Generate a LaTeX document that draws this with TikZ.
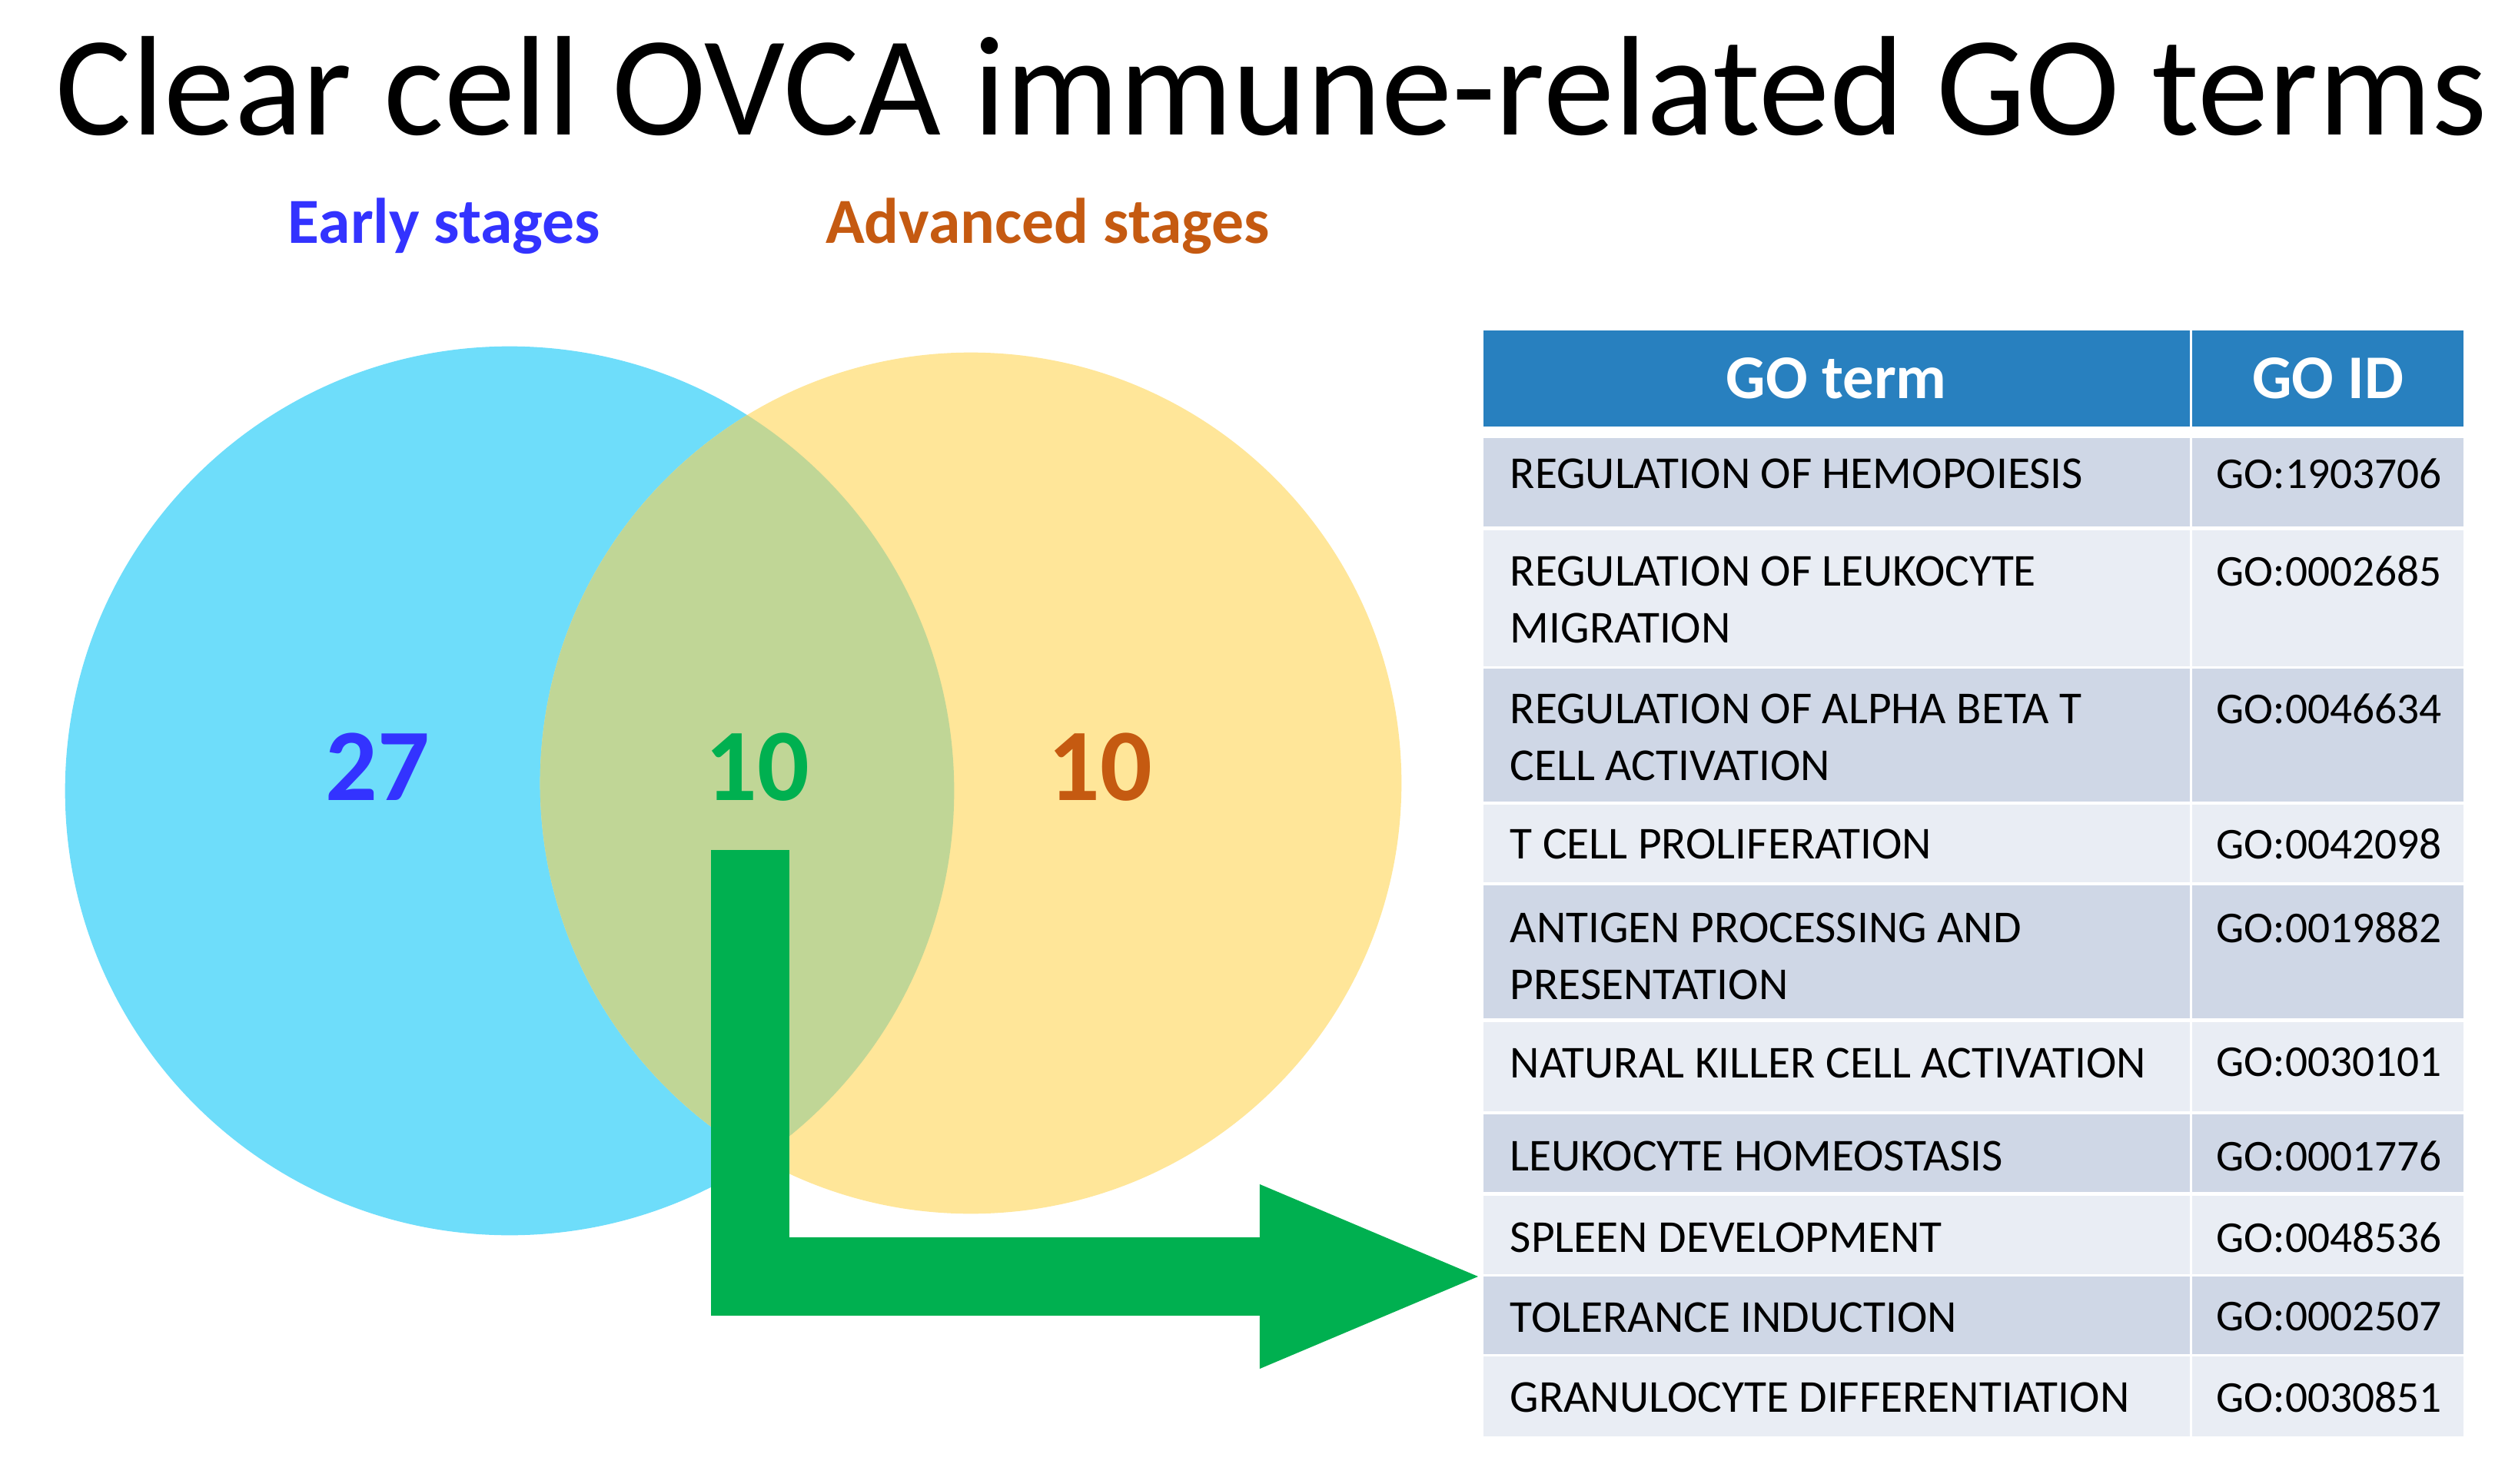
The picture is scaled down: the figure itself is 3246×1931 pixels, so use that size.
\documentclass[tikz,border=0pt]{standalone}
\usepackage{fontspec}
\setmainfont{Carlito}
\usetikzlibrary{positioning, arrows.meta}

\definecolor{earlyblue}{RGB}{51,51,255}
\definecolor{advbrown}{RGB}{197,90,17}
\definecolor{sharegreen}{RGB}{0,176,80}
\definecolor{earlyfill}{RGB}{110,221,250}
\definecolor{advfill}{RGB}{255,230,153}
\definecolor{overlapfill}{RGB}{192,214,150}
\definecolor{headblue}{RGB}{40,128,191}
\definecolor{rowdark}{RGB}{207,215,230}
\definecolor{rowlight}{RGB}{233,237,244}

\begin{document}
\begin{tikzpicture}
[
    x=0.01cm, y=-0.01cm,
    % One unit is one pixel of the original figure, y runs downwards
    % Table cells are named term-i / id-i, their texts t-i / g-i
]

%=================================== Start ===================================
\tikzstyle{cell}  = [rectangle, inner sep=0pt, outer sep=0pt, anchor=north west]
\tikzstyle{head}  = [cell, fill=headblue, text=white, font=\fontsize{23}{27}\selectfont\bfseries]
\tikzstyle{term}  = [inner sep=0pt, anchor=north west, align=left, font=\fontsize{16.9}{21}\selectfont]
\tikzstyle{goid}  = [inner sep=0pt, anchor=north, font=\fontsize{16.3}{21}\selectfont]
\tikzstyle{count} = [inner sep=0pt, anchor=base, font=\fontsize{38}{40}\selectfont\bfseries]
\tikzstyle{stage} = [inner sep=0pt, anchor=base, font=\fontsize{23.8}{28}\selectfont\bfseries]
\tikzstyle{set}   = [circle, inner sep=0pt, outer sep=0pt]

\useasboundingbox (0,0) rectangle (3246,1931);

% Title
\node[inner sep=0pt, anchor=base west, font=\fontsize{52.5}{60}\selectfont]
    (title) at (72,176) {Clear cell OVCA immune-related GO terms};

% Set labels
\node[stage, text=earlyblue] (early-label) at (578,317) {Early stages};
\node[stage, text=advbrown]  (adv-label)   at (1363,317) {Advanced stages};

% Draw the two sets and their overlap
\node[set, fill=earlyfill, minimum size=11.56cm] (early) at (663,1029) {};
\node[set, fill=advfill, minimum size=11.2cm]    (advanced) at (1263,1019) {};
\begin{scope}
    \clip (early.center) circle (5.78cm);
    \fill[overlapfill] (advanced.center) circle (5.6cm);
\end{scope}

% Counts
\node[count, text=earlyblue]  (n-early)  at (491,1041) {27};
\node[count, text=sharegreen] (n-shared) at (985,1041) {10};
\node[count, text=advbrown]   (n-adv)    at (1431,1041) {10};

% Header
\node[head, minimum width=9.18cm, minimum height=1.25cm] (head-term) at (1930,430) {GO term};
\node[head, minimum width=3.53cm, minimum height=1.25cm] (head-id)   at (2852,430) {GO ID};

% Rows: index / top / text offset / height / shade / term / id
\foreach \i / \top / \dy / \h / \shade / \term / \id in {
    1/570/26/1.15/rowdark/REGULATION OF HEMOPOIESIS/GO:1903706,
    2/690/33/1.77/rowlight/REGULATION OF LEUKOCYTE\\MIGRATION/GO:0002685,
    3/870/32/1.73/rowdark/REGULATION OF ALPHA BETA T\\CELL ACTIVATION/GO:0046634,
    4/1047/31/1.01/rowlight/T CELL PROLIFERATION/GO:0042098,
    5/1152/35/1.73/rowdark/ANTIGEN PROCESSING AND\\PRESENTATION/GO:0019882,
    6/1330/33/1.16/rowlight/NATURAL KILLER CELL ACTIVATION/GO:0030101,
    7/1450/34/1.01/rowdark/LEUKOCYTE HOMEOSTASIS/GO:0001776,
    8/1556/34/1.02/rowlight/SPLEEN DEVELOPMENT/GO:0048536,
    9/1661/33/1.01/rowdark/TOLERANCE INDUCTION/GO:0002507,
    10/1765/33/1.04/rowlight/GRANULOCYTE DIFFERENTIATION/GO:0030851}
{
    \node[cell, fill=\shade, minimum width=9.18cm, minimum height=\h cm] (term-\i) at (1930,\top) {};
    \node[cell, fill=\shade, minimum width=3.53cm, minimum height=\h cm] (id-\i) at (2852,\top) {};
    \node[term] (t-\i) at (1964,\top+\dy) {\term};
    \node[goid] (g-\i) at (3030,\top+\dy) {\id};
}

% Green arrow from the overlap to the table
\coordinate (shared-out) at (976,1106);
\coordinate (table-in)   at (1923,1661);
\draw[sharegreen, line width=1.01cm, miter limit=10,
      -{Triangle[length=2.84cm, width=2.4cm, line width=0pt]}]
    (shared-out) |- (table-in);
%==================================== END ====================================

\end{tikzpicture}
\end{document}
